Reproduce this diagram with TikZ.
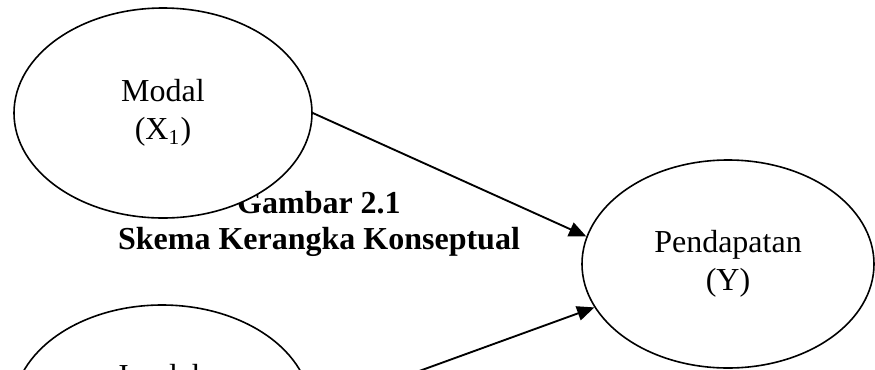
\documentclass[tikz,border=0pt]{standalone}
\usepackage{fontspec}
\setmainfont{Liberation Serif}
\usetikzlibrary{shapes.geometric,arrows.meta}

\begin{document}
\begin{tikzpicture}[x=0.375pt,y=-0.375pt,
    font=\fontsize{12}{14.4}\selectfont,
    elips/.style={ellipse, draw, fill=white, line width=0.6pt, align=center,
        minimum width=111.75pt, minimum height=78.75pt},
    panah/.style={-{Triangle[length=6.5pt,width=5.5pt]}, line width=0.7pt},
]

\useasboundingbox (0,0) rectangle (875,369);
\clip (0,0) rectangle (875,369);

% judul di bawah elips
\node [font=\bfseries\fontsize{12}{13.5}\selectfont, align=center] (judul) at (319,224)
    {Gambar 2.1\\Skema Kerangka Konseptual};

\node [elips] (modal) at (163,113) {Modal\\(X\textsubscript{1})};
\node [elips, minimum width=109.5pt, minimum height=78pt] (pend) at (728,264) {Pendapatan\\(Y)};
\node [elips, label={[anchor=base,yshift=13pt]center:Jumlah}] (jumlah) at (162,410) {};

\draw [panah] (modal.east) -- (pend.169);
\draw [panah] (jumlah.east) -- (pend.198);

\end{tikzpicture}
\end{document}
